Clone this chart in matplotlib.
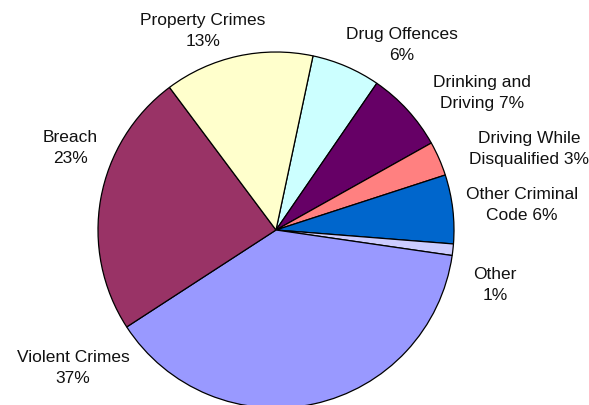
import matplotlib
matplotlib.use("Agg")
import matplotlib.pyplot as plt

plt.rcParams["font.family"] = ["Liberation Sans", "DejaVu Sans"]

# offence categories, clockwise from the top
categories = [
    "Drug Offences",
    "Drinking and Driving",
    "Driving While Disqualified",
    "Other Criminal Code",
    "Other",
    "Violent Crimes",
    "Breach",
    "Property Crimes",
]
shares = [6, 7, 3, 6, 1, 37, 23, 13]
label_text = [
    "Drug Offences\n6%",
    "Drinking and\nDriving 7%",
    "Driving While\nDisqualified 3%",
    "Other Criminal\nCode 6%",
    "Other\n1%",
    "Violent Crimes\n37%",
    "Breach\n23%",
    "Property Crimes\n13%",
]
colors = ["#CCFFFF", "#660066", "#FF8080", "#0066CC",
          "#CCCCFF", "#9999FF", "#993366", "#FFFFCC"]

# label block centres in pixels (x from left, y from top)
label_px = [(402, 45), (482, 93), (529, 149), (522, 205),
            (495, 285), (73, 368), (70, 148), (203, 31)]

W, H = 589, 406
cx, cy, r = 276, 231, 178

fig = plt.figure(figsize=(W / 100, H / 100), dpi=100)
fig.patch.set_facecolor("white")
ax = fig.add_axes([(cx - r) / W, (H - cy - r) / H, 2 * r / W, 2 * r / H])
ax.pie(
    shares,
    colors=colors,
    startangle=78,
    counterclock=False,
    radius=1.0,
    wedgeprops={"edgecolor": "black", "linewidth": 0.9},
)
ax.set_xlim(-1, 1)
ax.set_ylim(-1, 1)
ax.set_aspect("auto")
ax.axis("off")

for txt, (px, py) in zip(label_text, label_px):
    fig.text(px / W, 1 - py / H, txt, ha="center", va="center",
             fontsize=12.5, color="#111111", linespacing=1.5)

fig.savefig("out.png", dpi=100, facecolor="white")
